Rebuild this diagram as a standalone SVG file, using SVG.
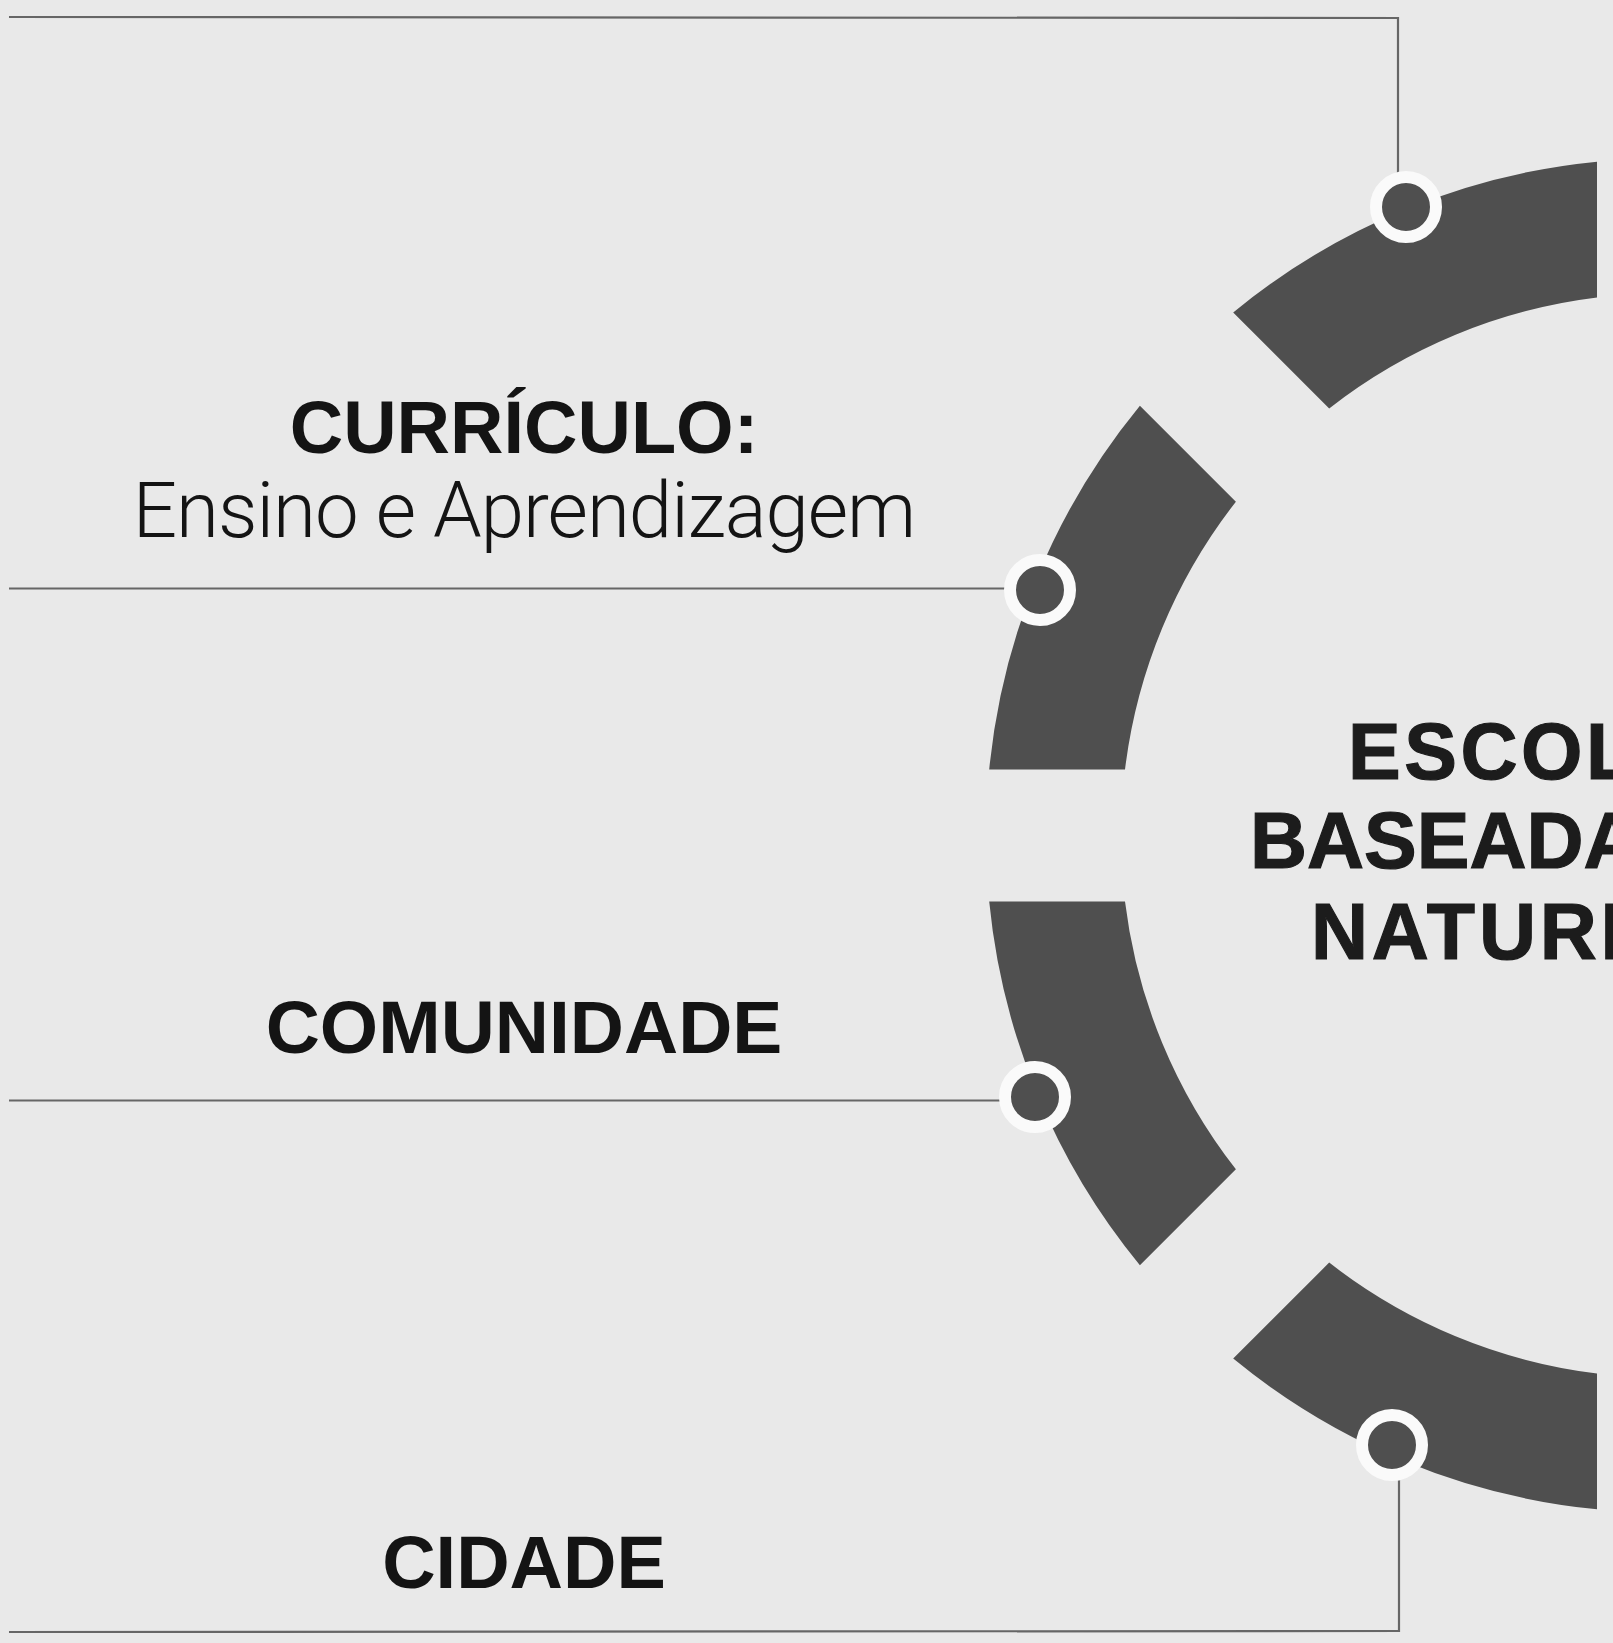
<svg xmlns="http://www.w3.org/2000/svg" width="1613" height="1643" viewBox="0 0 1613 1643">
<style>
.seg{fill:#4f4f4f}
.dot{fill:#4f4f4f;stroke:#fafafa;stroke-width:12}
.con{fill:none;stroke:#666;stroke-width:2.2}
.lbl{font-family:"Liberation Sans",Arial,sans-serif;font-weight:bold;font-size:74px;fill:#141414;text-anchor:middle}
.sub{font-family:Roboto,"Liberation Sans",sans-serif;font-weight:300;font-size:78px;fill:#141414;text-anchor:middle;letter-spacing:-1px}
.ctr{font-family:"Liberation Sans",Arial,sans-serif;font-weight:bold;font-size:79px;fill:#1c1c1c;stroke:#1c1c1c;stroke-width:1.2}
</style>
<rect width="1613" height="1643" fill="#e9e9e9"/>
<g id="ring">
<path class="seg" d="M1233.2,312.4 A677,677 0 0 1 1597,161.7 L1597,297.5 A542,542 0 0 0 1329.2,408.4 Z"/>
<path class="seg" d="M989.2,769.5 A677,677 0 0 1 1139.9,405.7 L1235.9,501.7 A542,542 0 0 0 1125,769.5 Z"/>
<path class="seg" d="M1139.9,1265.3 A677,677 0 0 1 989.2,901.5 L1125,901.5 A542,542 0 0 0 1235.9,1169.3 Z"/>
<path class="seg" d="M1597,1509.3 A677,677 0 0 1 1233.2,1358.6 L1329.2,1262.6 A542,542 0 0 0 1597,1373.5 Z"/>
</g>
<g id="connectors">
<polyline class="con" points="9,17 1398,18 1398,175"/>
<line class="con" x1="9" y1="588.5" x2="1005" y2="588.5"/>
<line class="con" x1="9" y1="1100.5" x2="1000" y2="1100.5"/>
<polyline class="con" points="1399,1478 1399,1631 9,1632"/>
</g>
<g id="node-top"><circle class="dot" cx="1406" cy="207" r="30"/></g>
<g id="node-curriculo"><circle class="dot" cx="1040" cy="590" r="30"/></g>
<g id="node-comunidade"><circle class="dot" cx="1035" cy="1097" r="30"/></g>
<g id="node-cidade"><circle class="dot" cx="1392" cy="1445" r="30"/></g>
<g id="label-curriculo">
<text class="lbl" x="524" y="453">CURRÍCULO:</text>
<text class="sub" x="524" y="537">Ensino e Aprendizagem</text>
</g>
<g id="label-comunidade"><text class="lbl" x="524" y="1053" style="font-size:75px">COMUNIDADE</text></g>
<g id="label-cidade"><text class="lbl" x="524" y="1588">CIDADE</text></g>
<g id="center-title">
<text class="ctr" x="1348" y="779" letter-spacing="3.5">ESCOLA</text>
<text class="ctr" x="1250" y="868">BASEADA</text>
<text class="ctr" x="1311" y="959" letter-spacing="3.8">NATUREZA</text>
</g>
</svg>
